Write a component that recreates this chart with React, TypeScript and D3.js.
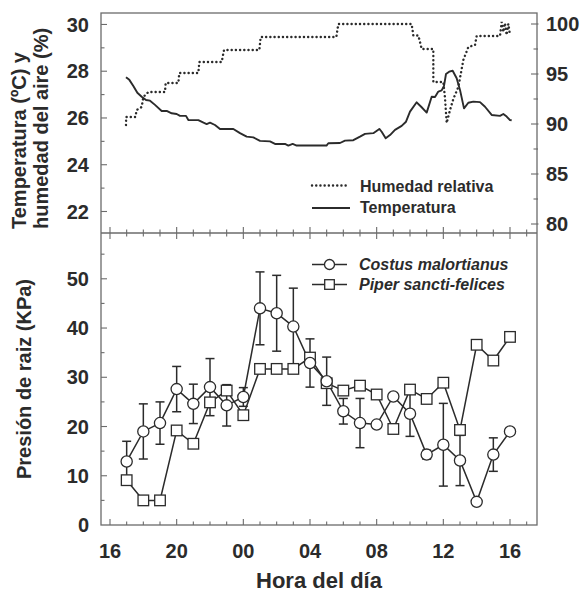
import React from 'react';
import * as d3 from 'd3';

const W = 583;
const H = 596;
const FONT = '"Liberation Sans", Arial, Helvetica, sans-serif';
const INK = '#2b2b2b';
const FRAME = '#6b6b6b';

// hours counted from midnight of the first day (17 = 17:00, 40 = 16:00 next day)
const hours = [17, 18, 19, 20, 21, 22, 23, 24, 25, 26, 27, 28, 29, 30, 31, 32, 33, 34, 35, 36, 37, 38, 39, 40];
const costus = [12.9, 19.0, 20.7, 27.6, 24.6, 28.0, 24.3, 26.0, 44.0, 43.0, 40.3, 32.9, 29.2, 23.1, 20.7, 20.4, 26.1, 22.6, 14.3, 16.3, 13.1, 4.7, 14.3, 19.0];
const costusErr = [4.1, 5.6, 4.3, 4.6, 4.0, 5.8, 4.2, 1.9, 7.4, 7.7, 7.8, 4.9, 4.9, 2.6, 5.0, 0, 0, 4.6, 0.9, 8.4, 5.1, 0, 3.4, 0];
const piper = [9.1, 5.0, 5.0, 19.2, 16.5, 24.9, 27.3, 22.3, 31.7, 31.7, 31.7, 34.0, 28.8, 27.3, 28.3, 26.5, 19.5, 27.5, 25.6, 28.9, 19.3, 36.6, 33.4, 38.2];

const tempHours = [16.96, 17.16, 17.4, 17.64, 17.9, 18.16, 18.4, 18.7, 19.1, 19.4, 19.7, 20.0, 20.2, 20.56, 20.7, 21.3, 21.61, 21.8, 22.0, 22.3, 22.6, 23.4, 23.8, 24.2, 24.6, 25.0, 25.6, 25.9, 26.5, 26.7, 26.96, 27.2, 28.99, 29.1, 29.8, 30.1, 30.6, 31.0, 31.3, 31.8, 32.16, 32.3, 32.54, 32.8, 33.1, 33.5, 33.76, 34.0, 34.4, 34.67, 35.0, 35.3, 35.5, 35.7, 35.9, 36.04, 36.16, 36.35, 36.56, 36.8, 37.0, 37.24, 37.5, 37.8, 38.2, 38.5, 38.9, 39.4, 39.6, 39.8, 40.0, 40.1];
const tempValues = [27.74, 27.63, 27.37, 27.08, 26.91, 26.77, 26.74, 26.56, 26.3, 26.3, 26.2, 26.17, 26.09, 26.09, 25.91, 25.91, 25.8, 25.74, 25.8, 25.7, 25.53, 25.53, 25.35, 25.2, 25.17, 25.02, 25.0, 24.89, 24.89, 24.82, 24.89, 24.82, 24.82, 24.92, 24.93, 25.03, 25.05, 25.2, 25.32, 25.35, 25.53, 25.41, 25.13, 25.27, 25.49, 25.66, 25.84, 26.27, 26.67, 26.48, 26.23, 26.91, 26.9, 27.13, 27.18, 27.37, 27.88, 27.98, 28.02, 27.7, 27.2, 26.41, 26.65, 26.7, 26.68, 26.48, 26.13, 26.09, 26.17, 26.06, 25.91, 25.9];

const rhHours = [16.96, 16.97, 17.52, 17.6, 17.9, 18.0, 18.3, 19.3, 19.34, 20.1, 20.16, 21.3, 21.36, 22.7, 22.84, 24.96, 25.04, 29.58, 29.7, 34.1, 34.2, 34.5, 34.6, 34.7, 35.4, 35.4, 36.0, 36.1, 36.2, 36.4, 36.6, 36.9, 37.2, 37.5, 37.9, 38.0, 39.4, 39.5, 39.6, 39.7, 39.8, 39.9, 40.0];
const rhValues = [89.9, 90.7, 90.7, 91.4, 91.7, 92.7, 93.2, 93.2, 94.1, 94.1, 95.1, 95.1, 96.2, 96.2, 97.4, 97.4, 98.7, 98.7, 100.0, 100.0, 98.85, 98.85, 98.2, 97.5, 97.5, 94.2, 94.2, 92.6, 90.1, 91.4, 92.5, 93.7, 96.4, 97.7, 97.9, 98.8, 98.8, 100.2, 99.2, 100.1, 98.9, 100.0, 98.9];

const xMajor = [16, 20, 24, 28, 32, 36, 40];
const xTickLabels = ['16', '20', '00', '04', '08', '12', '16'];
const tempTicks = [22, 24, 26, 28, 30];
const rhTicks = [80, 85, 90, 95, 100];
const pressTicks = [0, 10, 20, 30, 40, 50];

const L = 101, R = 537, T0 = 13, MID = 233, B = 525;

export default function App() {
  const x = d3.scaleLinear().domain([15.46, 41.62]).range([L, R]);
  const yT = d3.scaleLinear().domain([21.08, 30.49]).range([MID, T0]);
  const yRH = d3.scaleLinear().domain([79.1, 101.1]).range([MID, T0]);
  const yP = d3.scaleLinear().domain([0, 59.3]).range([B, MID]);

  const tempLine = d3.line<number>().x((d, i) => x(tempHours[i])).y(d => yT(d));
  const rhLine = d3.line<number>().x((d, i) => x(rhHours[i])).y(d => yRH(d));
  const pLine = d3.line<number>().x((d, i) => x(hours[i])).y(d => yP(d));

  const xMinor = d3.range(16, 42, 1).filter(h => !xMajor.includes(h));
  const tMinor = d3.range(22, 31, 1).filter(v => !tempTicks.includes(v));
  const rhMinor = d3.range(80, 101, 2.5).filter(v => !rhTicks.includes(v));
  const pMinor = d3.range(5, 60, 10);

  const MAJ = 6, MIN = 3.5;
  const tickStroke = { stroke: FRAME, strokeWidth: 1.1 };
  const textBold = { fontFamily: FONT, fontWeight: 700, fill: INK } as const;
  const dotted = { stroke: INK, strokeWidth: 2.4, strokeDasharray: '0.1 4.1', strokeLinecap: 'round' as const };

  return (
    <svg width={W} height={H} style={{ position: 'absolute', left: 0, top: 0, background: '#fff' }}>
      <rect x={0} y={0} width={W} height={H} fill="#fff" />

      {/* frames */}
      <rect x={L} y={T0} width={R - L} height={B - T0} fill="none" stroke={FRAME} strokeWidth={1.3} />
      <line x1={L} x2={R} y1={MID} y2={MID} stroke={FRAME} strokeWidth={1.3} />

      {/* x ticks: bottom axis up, middle border both ways */}
      {xMajor.map(h => (
        <g key={'xm' + h}>
          <line x1={x(h)} x2={x(h)} y1={B} y2={B - MAJ} {...tickStroke} />
          <line x1={x(h)} x2={x(h)} y1={MID - MAJ} y2={MID + MAJ} {...tickStroke} />
        </g>
      ))}
      {xMinor.map(h => (
        <g key={'xn' + h}>
          <line x1={x(h)} x2={x(h)} y1={B} y2={B - MIN} {...tickStroke} />
          <line x1={x(h)} x2={x(h)} y1={MID - MIN} y2={MID + MIN} {...tickStroke} />
        </g>
      ))}
      {xMajor.map((h, i) => (
        <text key={'xl' + h} x={x(h)} y={558} textAnchor="middle" fontSize={20} {...textBold}>{xTickLabels[i]}</text>
      ))}

      {/* top panel left axis */}
      {tempTicks.map(v => (
        <g key={'tt' + v}>
          <line x1={L} x2={L + MAJ} y1={yT(v)} y2={yT(v)} {...tickStroke} />
          <text x={89} y={yT(v)} dy="0.36em" textAnchor="end" fontSize={20} {...textBold}>{v}</text>
        </g>
      ))}
      {tMinor.map(v => (
        <line key={'tn' + v} x1={L} x2={L + MIN} y1={yT(v)} y2={yT(v)} {...tickStroke} />
      ))}

      {/* top panel right axis */}
      {rhTicks.map(v => (
        <g key={'rt' + v}>
          <line x1={R - MAJ} x2={R + 1.5} y1={yRH(v)} y2={yRH(v)} {...tickStroke} />
          <text x={546} y={yRH(v)} dy="0.36em" textAnchor="start" fontSize={20} {...textBold}>{v}</text>
        </g>
      ))}
      {rhMinor.map(v => (
        <line key={'rn' + v} x1={R - MIN} x2={R + 1} y1={yRH(v)} y2={yRH(v)} {...tickStroke} />
      ))}

      {/* bottom panel left axis */}
      {pressTicks.map(v => (
        <g key={'pt' + v}>
          {v > 0 && <line x1={L} x2={L + MAJ} y1={yP(v)} y2={yP(v)} {...tickStroke} />}
          <text x={89} y={yP(v)} dy="0.36em" textAnchor="end" fontSize={20} {...textBold}>{v}</text>
        </g>
      ))}
      {pMinor.map(v => (
        <line key={'pn' + v} x1={L} x2={L + MIN} y1={yP(v)} y2={yP(v)} {...tickStroke} />
      ))}

      {/* axis titles */}
      <text transform="translate(25.5,229) rotate(-90)" textAnchor="start" fontSize={20} {...textBold}>Temperatura (ºC) y</text>
      <text transform="translate(48,229) rotate(-90)" textAnchor="start" fontSize={20} {...textBold}>humedad del aire (%)</text>
      <text transform={`translate(31,${(MID + B) / 2}) rotate(-90)`} textAnchor="middle" fontSize={20} {...textBold}>Presión de raiz (KPa)</text>
      <text x={(L + R) / 2} y={588} textAnchor="middle" fontSize={22} {...textBold}>Hora del día</text>

      {/* top panel series */}
      <path d={rhLine(rhValues) || ''} fill="none" {...dotted} />
      <path d={tempLine(tempValues) || ''} fill="none" stroke={INK} strokeWidth={1.9} strokeLinejoin="round" />

      {/* top legend */}
      <line x1={312} x2={347} y1={185.5} y2={185.5} {...dotted} />
      <text x={360} y={192} fontSize={16} {...textBold}>Humedad relativa</text>
      <line x1={312} x2={350} y1={208} y2={208} stroke={INK} strokeWidth={1.9} />
      <text x={360} y={213} fontSize={16} {...textBold}>Temperatura</text>

      {/* bottom panel: error bars */}
      {hours.map((h, i) => costusErr[i] > 0 && (
        <g key={'eb' + h} stroke={INK} strokeWidth={1.5}>
          <line x1={x(h)} x2={x(h)} y1={yP(costus[i] - costusErr[i])} y2={yP(costus[i] + costusErr[i])} />
          <line x1={x(h) - 4.5} x2={x(h) + 4.5} y1={yP(costus[i] + costusErr[i])} y2={yP(costus[i] + costusErr[i])} />
          <line x1={x(h) - 4.5} x2={x(h) + 4.5} y1={yP(costus[i] - costusErr[i])} y2={yP(costus[i] - costusErr[i])} />
        </g>
      ))}

      {/* lines */}
      <path d={pLine(piper) || ''} fill="none" stroke={INK} strokeWidth={1.5} />
      <path d={pLine(costus) || ''} fill="none" stroke={INK} strokeWidth={1.5} />

      {/* markers */}
      {hours.map((h, i) => (
        <rect key={'sq' + h} x={x(h) - 5.3} y={yP(piper[i]) - 5.3} width={10.6} height={10.6} fill="#fff" stroke={INK} strokeWidth={1.3} />
      ))}
      {hours.map((h, i) => (
        <circle key={'ci' + h} cx={x(h)} cy={yP(costus[i])} r={5.6} fill="#fff" stroke={INK} strokeWidth={1.3} />
      ))}

      {/* bottom legend */}
      <line x1={312} x2={347} y1={264.5} y2={264.5} stroke={INK} strokeWidth={1.5} />
      <circle cx={329.5} cy={264.5} r={5} fill="#fff" stroke={INK} strokeWidth={1.3} />
      <text x={359} y={270} fontSize={16} fontStyle="italic" {...textBold}>Costus malortianus</text>
      <line x1={312} x2={347} y1={284.5} y2={284.5} stroke={INK} strokeWidth={1.5} />
      <rect x={324.7} y={279.7} width={9.6} height={9.6} fill="#fff" stroke={INK} strokeWidth={1.3} />
      <text x={359} y={290} fontSize={16} fontStyle="italic" {...textBold}>Piper sancti-felices</text>
    </svg>
  );
}
